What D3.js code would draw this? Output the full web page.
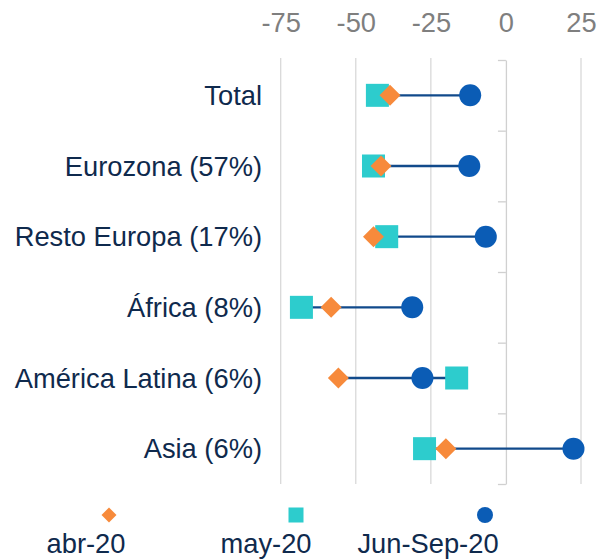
<!DOCTYPE html>
<html>
<head>
<meta charset="utf-8">
<script src="https://cdn.jsdelivr.net/npm/d3@7"></script>
<style>
  body { margin: 0; background: #fff; }
  svg { font-family: "Liberation Sans", Arial, sans-serif; }
</style>
</head>
<body>
<svg id="chart"></svg>
<script>
// regions and their share
const categories = ["Total", "Eurozona (57%)", "Resto Europa (17%)", "África (8%)", "América Latina (6%)", "Asia (6%)"];
// values
const abr20 = [-38.6, -41.6, -44.1, -58.2, -55.8, -20.0];
const may20 = [-42.8, -44.1, -39.7, -68.1, -16.4, -27.1];
const junSep20 = [-11.9, -12.2, -6.7, -31.2, -27.8, 22.5];
const xTicks = [-75, -50, -25, 0, 25];
const seriesNames = ["abr-20", "may-20", "Jun-Sep-20"];

const width = 598, height = 559;
const navy = "#0f2a4d";
const fontSize = "27.3px";

const svg = d3.select("#chart")
  .attr("width", width)
  .attr("height", height);

const x = d3.scaleLinear().domain([-75, 25]).range([280.7, 581]);
const y = d3.scaleBand().domain(categories).range([60, 484]);

// gridlines
svg.append("g")
  .selectAll("line")
  .data(xTicks.filter(d => d !== 0))
  .join("line")
  .attr("x1", d => x(d)).attr("x2", d => x(d))
  .attr("y1", 58).attr("y2", 484)
  .attr("stroke", "#d9d9d9")
  .attr("stroke-width", 1.3);

// top axis labels (plain hyphen minus like the original)
const xAxis = svg.append("g")
  .attr("transform", "translate(0,60)")
  .call(d3.axisTop(x).tickValues(xTicks).tickSize(0).tickPadding(28).tickFormat(d => String(d)));
xAxis.select(".domain").remove();
xAxis.selectAll("text")
  .attr("fill", "#7f7f7f")
  .style("font-size", fontSize)
  .style("font-family", "'Liberation Sans', Arial, sans-serif");

// vertical axis at zero with ticks at band boundaries
const yLin = d3.scaleLinear().domain([0, categories.length]).range([60, 484]);
const yAxis = svg.append("g")
  .attr("transform", `translate(${x(0)},0)`)
  .call(d3.axisLeft(yLin).tickValues(d3.range(categories.length + 1)).tickSize(8).tickSizeOuter(0).tickFormat(""));
yAxis.selectAll("line, path")
  .attr("stroke", "#d0d0d0")
  .attr("stroke-width", 1.3);

// category labels
svg.append("g")
  .selectAll("text")
  .data(categories)
  .join("text")
  .attr("x", 262)
  .attr("y", d => y(d) + y.bandwidth() / 2 + 9.8)
  .attr("text-anchor", "end")
  .attr("fill", navy)
  .style("font-size", fontSize)
  .text(d => d);

const rows = categories.map((c, i) => ({ cat: c, abr: abr20[i], may: may20[i], jun: junSep20[i] }));
const cy = d => y(d.cat) + y.bandwidth() / 2;

// high-low lines
svg.append("g")
  .selectAll("line")
  .data(rows)
  .join("line")
  .attr("x1", d => x(Math.min(d.abr, d.may, d.jun)))
  .attr("x2", d => x(Math.max(d.abr, d.may, d.jun)))
  .attr("y1", cy).attr("y2", cy)
  .attr("stroke", "#114a8b")
  .attr("stroke-width", 2.4);

const diamond = (cx, cyv, r) => `M${cx},${cyv - r}L${cx + r},${cyv}L${cx},${cyv + r}L${cx - r},${cyv}Z`;

// may-20 squares
svg.append("g")
  .selectAll("rect")
  .data(rows)
  .join("rect")
  .attr("x", d => x(d.may) - 11.5)
  .attr("y", d => cy(d) - 11.5)
  .attr("width", 23).attr("height", 23)
  .attr("fill", "#2dcccd");

// abr-20 diamonds
svg.append("g")
  .selectAll("path")
  .data(rows)
  .join("path")
  .attr("d", d => diamond(x(d.abr), cy(d), 10.5))
  .attr("fill", "#f78a3b");

// Jun-Sep-20 circles
svg.append("g")
  .selectAll("circle")
  .data(rows)
  .join("circle")
  .attr("cx", d => x(d.jun))
  .attr("cy", cy)
  .attr("r", 11)
  .attr("fill", "#0b5cb5");

// legend
const legend = svg.append("g");
const legY = 515;
legend.append("path").attr("d", diamond(109, legY, 7.5)).attr("fill", "#f78a3b");
legend.append("rect").attr("x", 288.5).attr("y", legY - 7.5).attr("width", 15).attr("height", 15).attr("fill", "#2dcccd");
legend.append("circle").attr("cx", 485).attr("cy", legY).attr("r", 8).attr("fill", "#0b5cb5");

const legX = [86, 266, 428];
legend.selectAll("text")
  .data(seriesNames)
  .join("text")
  .attr("x", (d, i) => legX[i])
  .attr("y", 553)
  .attr("text-anchor", "middle")
  .attr("fill", navy)
  .style("font-size", fontSize)
  .text(d => d);
</script>
</body>
</html>
